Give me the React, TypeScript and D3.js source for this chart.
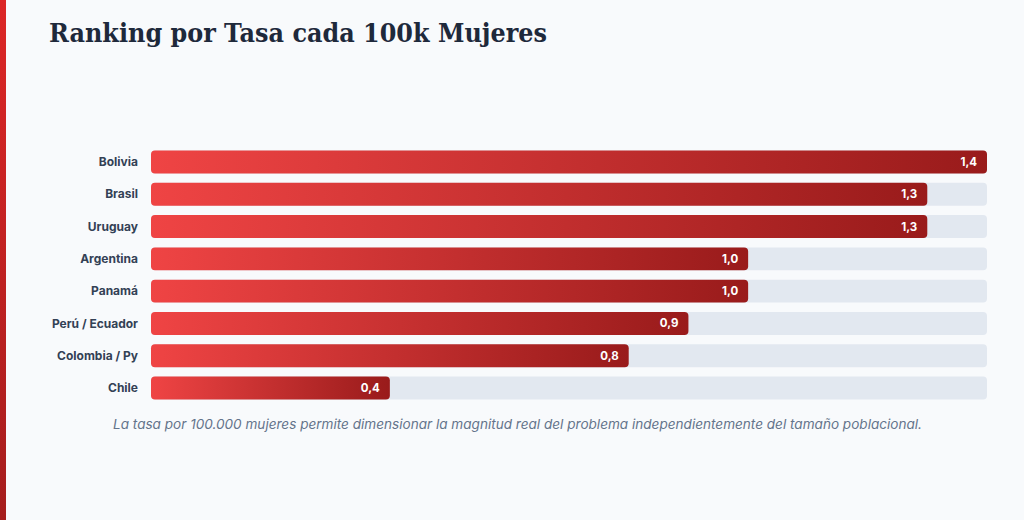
import * as d3 from 'd3';
import React from 'react';

const countries = ['Bolivia', 'Brasil', 'Uruguay', 'Argentina', 'Panamá', 'Perú / Ecuador', 'Colombia / Py', 'Chile'];
const rates = [1.4, 1.3, 1.3, 1.0, 1.0, 0.9, 0.8, 0.4];
const title = 'Ranking por Tasa cada 100k Mujeres';
const note = 'La tasa por 100.000 mujeres permite dimensionar la magnitud real del problema independientemente del tamaño poblacional.';

const W = 1024;
const H = 520;

const App = () => {
  const x = d3.scaleLinear().domain([0, d3.max(rates) || 1.4]).range([151, 987]);
  const y = d3.scaleBand().domain(countries).range([146, 404]).paddingInner(0.29).paddingOuter(0.14);
  const fmt = (v: number) => d3.format('.1f')(v).replace('.', ',');

  return (
    <svg width={W} height={H} style={{ position: 'fixed', left: 0, top: 0 }}>
      <defs>
        <linearGradient id="barGrad" x1="0" x2="1" y1="0" y2="0">
          <stop offset="0%" stopColor="#ef4444" />
          <stop offset="100%" stopColor="#991b1b" />
        </linearGradient>
        <linearGradient id="sideGrad" x1="0" x2="0" y1="0" y2="1">
          <stop offset="0%" stopColor="#dc2626" />
          <stop offset="100%" stopColor="#a51d1d" />
        </linearGradient>
      </defs>
      <rect width={W} height={H} fill="#f8fafc" />
      <rect width={6} height={H} fill="url(#sideGrad)" />
      <text x={49} y={42} fontFamily="'DejaVu Serif', serif" fontWeight={700} fontSize={26} fill="#1e293b" textLength={498} lengthAdjust="spacingAndGlyphs">
        {title}
      </text>
      {countries.map((c, i) => {
        const yy = y(c) || 0;
        const bh = y.bandwidth();
        return (
          <g key={c}>
            <text x={138} y={yy + bh / 2} dy="0.35em" textAnchor="end" fontFamily="Inter, 'DejaVu Sans', sans-serif" fontWeight={700} fontSize={12} fill="#334155">
              {c}
            </text>
            <rect x={x(0)} y={yy} width={x.range()[1] - x(0)} height={bh} rx={4} fill="#e2e8f0" />
            <rect x={x(0)} y={yy} width={x(rates[i]) - x(0)} height={bh} rx={4} fill="url(#barGrad)" />
            <text x={x(rates[i]) - 10} y={yy + bh / 2} dy="0.35em" textAnchor="end" fontFamily="Inter, 'DejaVu Sans', sans-serif" fontWeight={700} fontSize={11.5} fill="#ffffff">
              {fmt(rates[i])}
            </text>
          </g>
        );
      })}
      <text x={517.5} y={429} textAnchor="middle" fontFamily="Inter, 'DejaVu Sans', sans-serif" fontStyle="italic" fontSize={13.5} fill="#64748b" textLength={809} lengthAdjust="spacingAndGlyphs">
        {note}
      </text>
    </svg>
  );
};

export default App;
